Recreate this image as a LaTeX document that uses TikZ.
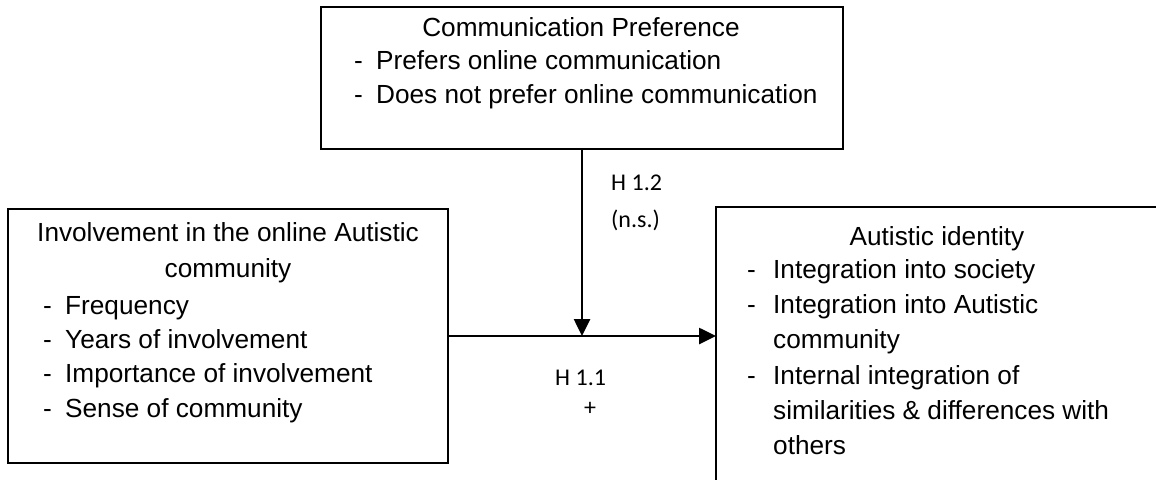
\documentclass[tikz,border=0pt]{standalone}
\usepackage{fontspec}
\setmainfont{Liberation Sans}
\newfontfamily\lblfont{Carlito}
\usetikzlibrary{arrows.meta}
\tikzset{
  boxnode/.style={draw=black, line width=2pt, fill=none, inner sep=0pt, outer sep=0pt},
  arr/.style={line width=2.6pt, -{Triangle[length=17pt,width=16pt]}},
  txt/.style={inner sep=0pt, font=\fontsize{26.2}{34}\selectfont},
  lbl/.style={inner sep=0pt, font=\lblfont\fontsize{24}{30}\selectfont},
}
\newcommand\dashitem[2]{\makebox[#1][l]{-}#2}
\begin{document}
\begin{tikzpicture}[x=1pt,y=-1pt]
\useasboundingbox (0,0) rectangle (1156,479);
\clip (0,0) rectangle (1156,479);
% boxes
\node[boxnode, minimum width=522pt, minimum height=142pt, anchor=north] (pref) at (582,7) {};
\node[boxnode, minimum width=440pt, minimum height=254pt, anchor=north west] (inv) at (8,209) {};
\node[boxnode, minimum width=450pt, minimum height=320pt, anchor=north west] (ident) at (716,207) {};
% top box text
\node[txt, anchor=base] (p0) at (581,36) {Communication Preference};
\node[txt, anchor=base west] (p1) at (354,69) {\dashitem{22pt}{Prefers online communication}};
\node[txt, anchor=base west] (p2) at (354,103) {\dashitem{22pt}{Does not prefer online communication}};
% left box text
\node[txt, anchor=base] (i0) at (228,241) {Involvement in the online Autistic};
\node[txt, anchor=base] (i1) at (228,277) {community};
\node[txt, anchor=base west] (i2) at (43,314) {\dashitem{22pt}{Frequency}};
\node[txt, anchor=base west] (i3) at (43,348) {\dashitem{22pt}{Years of involvement}};
\node[txt, anchor=base west] (i4) at (43,382) {\dashitem{22pt}{Importance of involvement}};
\node[txt, anchor=base west] (i5) at (43,417) {\dashitem{22pt}{Sense of community}};
% right box text
\node[txt, anchor=base] (a0) at (937,245) {Autistic identity};
\node[txt, anchor=base west] (a1) at (747,278) {\dashitem{26pt}{Integration into society}};
\node[txt, anchor=base west] (a2) at (747,313) {\dashitem{26pt}{Integration into Autistic}};
\node[txt, anchor=base west] (a3) at (773,348) {community};
\node[txt, anchor=base west] (a4) at (747,384) {\dashitem{26pt}{Internal integration of}};
\node[txt, anchor=base west] (a5) at (773,419) {similarities \& differences with};
\node[txt, anchor=base west] (a6) at (773,454) {others};
% connectors
\draw[arr] (inv.east) -- (inv.east -| ident.west);
\draw[arr] (pref.south) -- (pref.south |- inv.east);
% labels
\node[lbl, anchor=base west] (h12) at (611,190) {H 1.2};
\node[lbl, anchor=base west] (ns) at (611,227) {(n.s.)};
\node[lbl, anchor=base west] (h11) at (555,385) {H 1.1};
\node[lbl, anchor=center] (plus) at (590,409) {+};
\end{tikzpicture}
\end{document}
